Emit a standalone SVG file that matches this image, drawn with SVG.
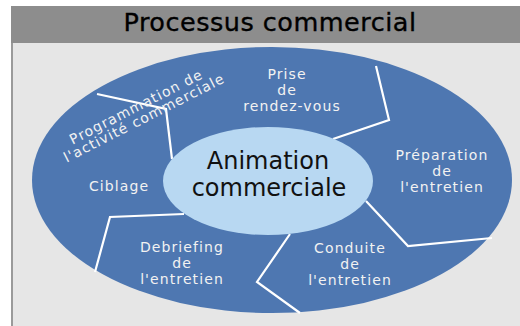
<svg xmlns="http://www.w3.org/2000/svg" width="520" height="326" viewBox="0 0 520 326">
<style>
.lbl{font-family:"DejaVu Sans","Liberation Sans",sans-serif;font-size:14px;fill:#f2f2f2;text-anchor:middle;letter-spacing:1.1px}
.ctr{font-family:"DejaVu Sans","Liberation Sans",sans-serif;font-size:24px;fill:#111;text-anchor:middle}
.div{fill:none;stroke:#fff;stroke-width:2.2;stroke-linejoin:miter}
</style>
<rect x="0" y="0" width="520" height="326" fill="#fff"/>
<rect x="11" y="6" width="509" height="37" fill="#8d8d8d"/>
<rect x="11" y="43" width="509" height="283" fill="#e6e6e6"/>
<line x1="12" y1="43" x2="12" y2="326" stroke="#9a9a9a" stroke-width="2"/>
<text x="270" y="31" font-family="DejaVu Sans, Liberation Sans, sans-serif" font-size="25.5" letter-spacing="0.5" fill="#000" stroke="#000" stroke-width="0.35" text-anchor="middle">Processus commercial</text>
<g id="ring">
<ellipse cx="272" cy="180" rx="240" ry="133" fill="#4e77b1"/>
</g>
<g id="connectors">
<polyline class="div" points="97,94 166,109 172,159"/>
<polyline class="div" points="376,66 389,120 333,139"/>
<polyline class="div" points="366,201 408,246 492,238"/>
<polyline class="div" points="290,234 257,282 300,313"/>
<polyline class="div" points="184,214 110,217 95,272"/>
</g>
<g id="center">
<ellipse cx="268" cy="181" rx="105" ry="54" fill="#b8d8f2"/>
<text class="ctr" x="268" y="169">Animation</text>
<text class="ctr" x="269" y="196">commerciale</text>
</g>
<g id="prise">
<text class="lbl" x="287" y="79">Prise</text>
<text class="lbl" x="287" y="95">de</text>
<text class="lbl" x="292" y="111">rendez-vous</text>
</g>
<g id="preparation">
<text class="lbl" x="442" y="160">Préparation</text>
<text class="lbl" x="442" y="176">de</text>
<text class="lbl" x="442" y="192">l'entretien</text>
</g>
<g id="conduite">
<text class="lbl" x="350" y="253">Conduite</text>
<text class="lbl" x="350" y="269">de</text>
<text class="lbl" x="350" y="285">l'entretien</text>
</g>
<g id="debriefing">
<text class="lbl" x="182" y="252">Debriefing</text>
<text class="lbl" x="182" y="268">de</text>
<text class="lbl" x="182" y="284">l'entretien</text>
</g>
<g id="ciblage">
<text class="lbl" x="119" y="191">Ciblage</text>
</g>
<g id="programmation" transform="rotate(-27 142 116)">
<text class="lbl" x="141" y="110" letter-spacing="0.9">Programmation de</text>
<text class="lbl" x="143" y="123.5" letter-spacing="0.8">l'activité commerciale</text>
</g>
</svg>
